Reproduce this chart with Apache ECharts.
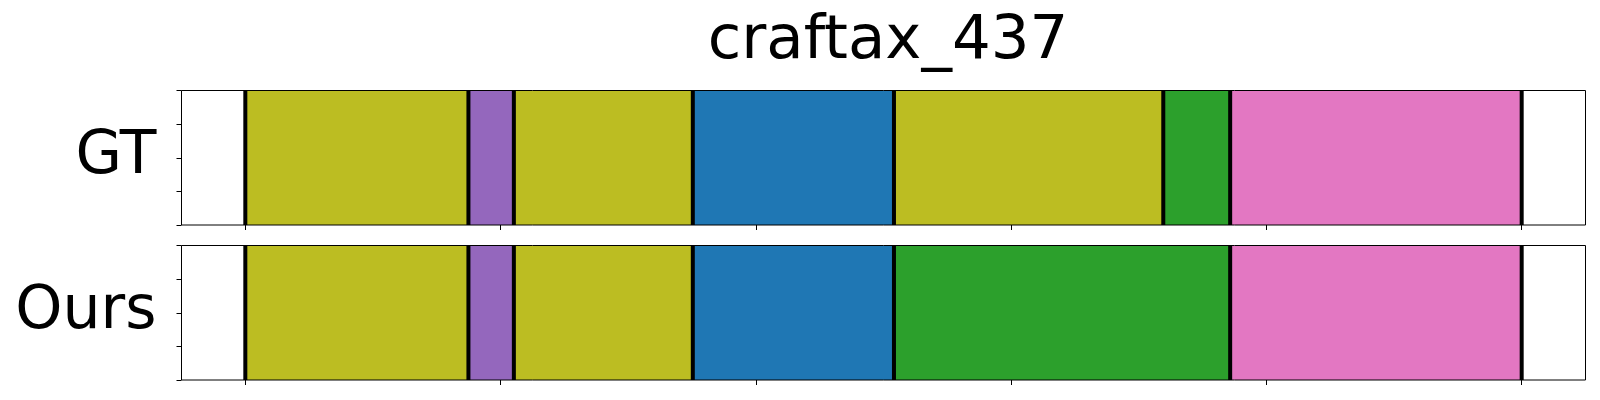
<!DOCTYPE html>
<html><head><meta charset="utf-8">
<script src="https://cdn.jsdelivr.net/npm/echarts@6/dist/echarts.min.js"></script>
<style>html,body{margin:0;padding:0;background:#fff}#c{width:1600px;height:400px}</style>
</head><body><div id="c"></div>
<script>
const chartTitle = 'craftax_437';
const rowNames = ['GT', 'Ours'];
const xTicks = [0, 100, 200, 300, 400, 500];
const yTicks = [0, 0.25, 0.5, 0.75, 1];
const gtStart = [0, 87.4, 105.2, 175.3, 254.1, 359.6, 385.8];
const gtEnd = [87.4, 105.2, 175.3, 254.1, 359.6, 385.8, 500];
const gtClass = ['olive', 'purple', 'olive', 'blue', 'olive', 'green', 'pink'];
const oursStart = [0, 87.4, 105.2, 175.3, 254.1, 385.8];
const oursEnd = [87.4, 105.2, 175.3, 254.1, 385.8, 500];
const oursClass = ['olive', 'purple', 'olive', 'blue', 'green', 'pink'];
const classColors = {olive: '#bcbd22', purple: '#9467bd', blue: '#1f77b4', green: '#2ca02c', pink: '#e377c2'};

const FONT = 'DejaVu Sans';
const grids = [
  {left: 181.5, top: 90.5, width: 1404, height: 134.5},
  {left: 181.5, top: 245.5, width: 1404, height: 134.5}
];

function segRender(params, api) {
  const p0 = api.coord([api.value(0), 1]);
  const p1 = api.coord([api.value(1), 0]);
  return {type: 'rect', shape: {x: p0[0], y: p0[1], width: p1[0] - p0[0], height: p1[1] - p0[1]},
    style: {fill: api.visual('color')}};
}
function lineRender(params, api) {
  const p0 = api.coord([api.value(0), 1]);
  const p1 = api.coord([api.value(0), 0]);
  return {type: 'line', shape: {x1: p0[0], y1: p0[1], x2: p1[0], y2: p1[1]},
    style: {stroke: '#000', lineWidth: 4}};
}

const rows = [
  {start: gtStart, end: gtEnd, cls: gtClass},
  {start: oursStart, end: oursEnd, cls: oursClass}
];

const series = [];
rows.forEach((r, i) => {
  series.push({
    type: 'custom', xAxisIndex: i, yAxisIndex: i, renderItem: segRender, z: 2,
    data: r.start.map((s, k) => ({value: [s, r.end[k]], itemStyle: {color: classColors[r.cls[k]]}}))
  });
  const bounds = r.start.concat([r.end[r.end.length - 1]]);
  series.push({
    type: 'custom', xAxisIndex: i, yAxisIndex: i, renderItem: lineRender, z: 3,
    data: bounds.map(b => [b])
  });
});

const chart = echarts.init(document.getElementById('c'), null, {renderer: 'canvas'});
chart.setOption({
  animation: false,
  backgroundColor: '#fff',
  title: {
    text: chartTitle, left: 883, top: 7, textAlign: 'center',
    textStyle: {fontFamily: FONT, fontSize: 61, fontWeight: 'normal', color: '#000'}
  },
  grid: grids.map(g => Object.assign({show: true, borderColor: '#000', borderWidth: 1, z: 10, backgroundColor: 'transparent'}, g)),
  xAxis: grids.map((g, i) => ({
    type: 'value', gridIndex: i, min: -25, max: 525, interval: 25, position: 'bottom',
    axisLine: {show: false, onZero: false},
    axisTick: {show: true, length: 5, inside: false, customValues: xTicks, lineStyle: {color: '#000', width: 1}},
    axisLabel: {show: false},
    splitLine: {show: false}
  })),
  yAxis: grids.map((g, i) => ({
    type: 'value', gridIndex: i, min: 0, max: 1, interval: 0.25, position: 'left',
    name: rowNames[i], nameLocation: 'middle', nameRotate: 0, nameGap: 25,
    nameTextStyle: {fontFamily: FONT, fontSize: 60, color: '#000', align: 'right', verticalAlign: 'middle'},
    axisLine: {show: false, onZero: false},
    axisTick: {show: true, length: 5, inside: false, customValues: yTicks, lineStyle: {color: '#000', width: 1}},
    axisLabel: {show: false},
    splitLine: {show: false}
  })),
  series: series
});
</script>
</body></html>
